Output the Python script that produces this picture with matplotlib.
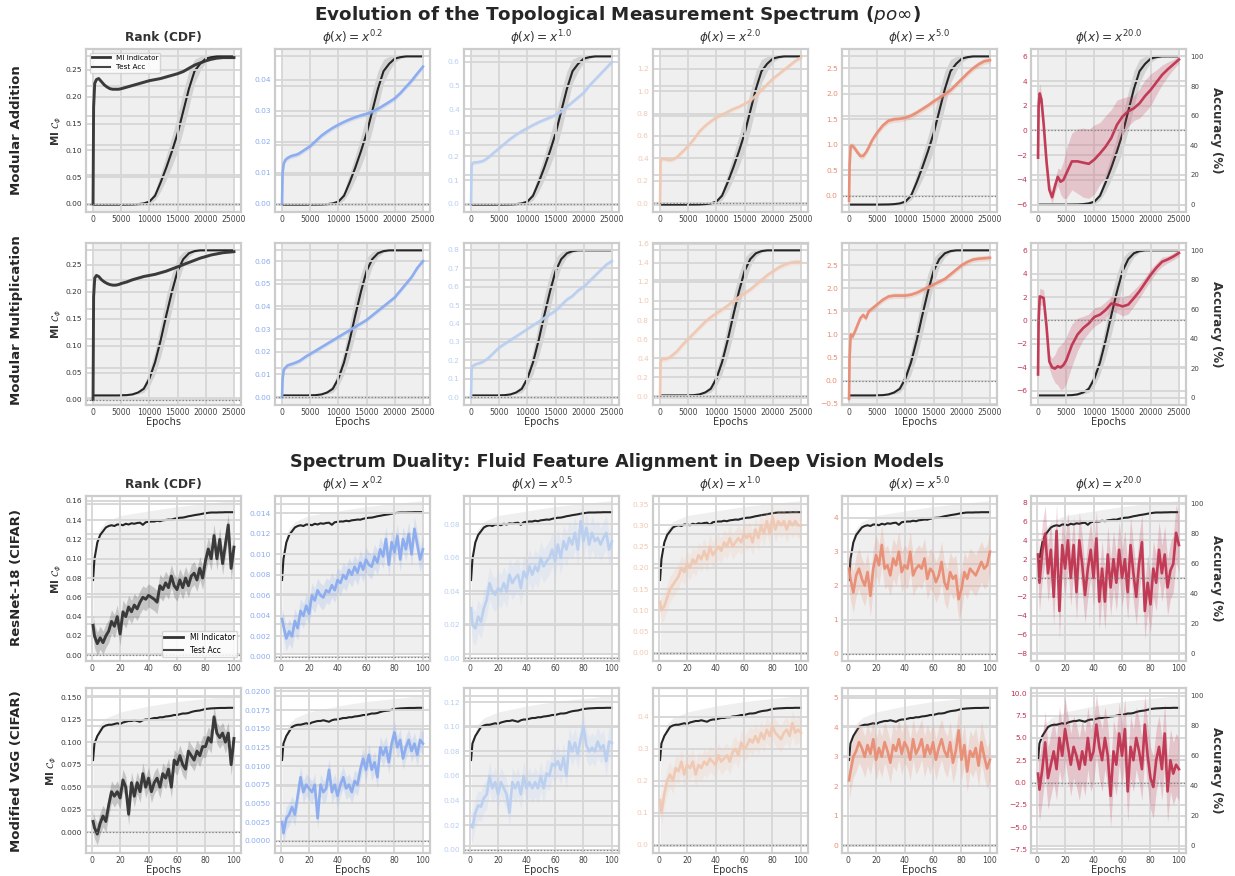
import numpy as np
import matplotlib.pyplot as plt
from matplotlib.lines import Line2D
from matplotlib.ticker import MultipleLocator

W, H = 1235, 876

# ---------------- grokking runs (training steps) ----------------
grok_steps = [0, 100, 300, 600, 1000, 1500, 2000, 2500, 3000, 3500, 4000, 4500, 5000,
              6000, 7000, 8000, 9000, 10000, 11000, 12000, 13000, 14000, 15000, 16000,
              17000, 18000, 19000, 20000, 21000, 22000, 23000, 24000, 25000]

acc_add = [0, 0, 0, 0, 0, 0, 0, 0, 0, 0, 0, 0, 0, 0.05, 0.1, 0.3, 0.8, 2, 6, 15, 25, 36,
           48, 63, 78, 90, 95, 98.5, 99.5, 100, 100, 100, 100]
acc_add_sd = [0, 0, 0, 0, 0, 0, 0, 0, 0, 0, 0, 0, 0, 0.05, 0.1, 0.3, 0.7, 1.5, 3, 6, 8, 10,
              12, 13, 12, 8, 5, 2.5, 1, 0.3, 0, 0, 0]
acc_mul = [1.5, 1.5, 1.5, 1.5, 1.5, 1.5, 1.5, 1.5, 1.5, 1.5, 1.5, 1.5, 1.6, 1.7, 2.2, 3.5,
           6, 13, 24, 39, 56, 72, 86, 94, 98, 99.5, 100, 100, 100, 100, 100, 100, 100]
acc_mul_sd = [0, 0, 0, 0, 0, 0, 0, 0, 0, 0, 0, 0, 0.1, 0.2, 0.5, 1, 2.5, 5, 8, 11, 13, 12,
              9, 5, 2.5, 1, 0.3, 0, 0, 0, 0, 0, 0]

add_rank = [0, 0.18, 0.225, 0.232, 0.234, 0.228, 0.222, 0.218, 0.215, 0.214, 0.214, 0.214,
            0.215, 0.218, 0.221, 0.224, 0.227, 0.23, 0.232, 0.234, 0.237, 0.24, 0.243,
            0.247, 0.253, 0.259, 0.263, 0.267, 0.27, 0.272, 0.273, 0.273, 0.273]
add_p02 = [0, 0.01, 0.013, 0.0142, 0.0148, 0.0153, 0.0156, 0.0158, 0.0162, 0.0168, 0.0174,
           0.018, 0.0186, 0.0203, 0.022, 0.0233, 0.0245, 0.0255, 0.0264, 0.0272, 0.0279,
           0.0285, 0.029, 0.0297, 0.0306, 0.0317, 0.0328, 0.034, 0.0357, 0.0377, 0.0397,
           0.042, 0.0442]
add_p10 = [0, 0.16, 0.172, 0.175, 0.175, 0.177, 0.18, 0.186, 0.195, 0.205, 0.215, 0.225,
           0.235, 0.255, 0.275, 0.292, 0.307, 0.32, 0.333, 0.345, 0.355, 0.365, 0.375,
           0.39, 0.41, 0.43, 0.45, 0.47, 0.5, 0.525, 0.55, 0.575, 0.6]
add_p20 = [0, 0.37, 0.395, 0.395, 0.39, 0.385, 0.385, 0.395, 0.41, 0.435, 0.46, 0.485,
           0.51, 0.57, 0.64, 0.69, 0.73, 0.765, 0.79, 0.815, 0.84, 0.86, 0.885, 0.915,
           0.96, 1.01, 1.06, 1.11, 1.15, 1.19, 1.23, 1.27, 1.3]
add_p50 = [-0.1, 0.6, 0.98, 0.98, 0.93, 0.85, 0.78, 0.78, 0.85, 0.95, 1.07, 1.16, 1.24,
           1.38, 1.47, 1.5, 1.51, 1.53, 1.57, 1.63, 1.7, 1.77, 1.85, 1.92, 1.99, 2.07,
           2.18, 2.29, 2.4, 2.5, 2.58, 2.64, 2.66]
add_p200 = [-2.2, 2.0, 3.0, 2.5, 0.5, -2.5, -4.8, -5.4, -4.5, -3.75, -4.15, -4.0, -3.5,
            -2.5, -2.5, -2.6, -2.7, -2.35, -1.85, -1.3, -0.6, 0.46, 1.14, 1.55, 1.8, 2.2,
            2.8, 3.3, 3.9, 4.5, 4.95, 5.35, 5.75]
add_p200_sd = [0.5, 1.0, 0.8, 0.5, 0.5, 0.5, 0.5, 0.5, 0.5, 0.7, 1.0, 1.5, 2.0, 2.3, 2.6,
               2.8, 2.8, 2.8, 2.5, 2.5, 2.3, 2.0, 1.5, 1.2, 1.0, 1.2, 1.3, 1.3, 1.0, 0.8,
               0.6, 0.4, 0.3]

mul_rank = [0, 0.19, 0.225, 0.23, 0.228, 0.222, 0.218, 0.215, 0.213, 0.212, 0.212, 0.213,
            0.215, 0.218, 0.222, 0.225, 0.228, 0.23, 0.232, 0.235, 0.238, 0.242, 0.246,
            0.25, 0.254, 0.258, 0.262, 0.265, 0.268, 0.27, 0.272, 0.273, 0.274]
mul_p02 = [0, 0.008, 0.012, 0.013, 0.014, 0.0144, 0.0148, 0.0153, 0.0158, 0.0166, 0.0175,
           0.0183, 0.019, 0.0205, 0.022, 0.0235, 0.025, 0.0265, 0.028, 0.0295, 0.031,
           0.0325, 0.034, 0.036, 0.038, 0.04, 0.042, 0.044, 0.047, 0.05, 0.053, 0.057, 0.06]
mul_p10 = [0, 0.15, 0.17, 0.175, 0.18, 0.185, 0.19, 0.2, 0.21, 0.225, 0.24, 0.255, 0.27,
           0.29, 0.31, 0.33, 0.35, 0.37, 0.39, 0.41, 0.43, 0.45, 0.47, 0.5, 0.53, 0.55,
           0.58, 0.6, 0.63, 0.66, 0.69, 0.72, 0.74]
mul_p20 = [0, 0.35, 0.39, 0.39, 0.39, 0.4, 0.42, 0.445, 0.47, 0.505, 0.54, 0.57, 0.6, 0.66,
           0.72, 0.78, 0.83, 0.87, 0.91, 0.95, 1.0, 1.04, 1.08, 1.12, 1.17, 1.22, 1.27,
           1.31, 1.35, 1.38, 1.4, 1.41, 1.41]
mul_p50 = [-0.4, 0.5, 1.0, 0.95, 1.05, 1.2, 1.35, 1.42, 1.35, 1.5, 1.55, 1.6, 1.65, 1.75,
           1.82, 1.84, 1.84, 1.84, 1.86, 1.9, 1.96, 2.02, 2.08, 2.14, 2.2, 2.3, 2.4, 2.5,
           2.57, 2.62, 2.64, 2.65, 2.66]
mul_p200 = [-4.6, 0.0, 2.05, 2.0, 1.9, -0.5, -3.5, -4.0, -4.1, -3.9, -4.0, -3.8, -3.4,
            -2.1, -1.2, -0.65, -0.25, 0.3, 0.5, 0.9, 1.45, 1.35, 1.2, 1.35, 1.9, 2.5, 3.2,
            3.9, 4.5, 5.0, 5.2, 5.45, 5.75]
mul_p200_sd = [0.5, 0.7, 0.7, 0.7, 0.7, 0.6, 0.6, 0.8, 1.2, 1.6, 1.9, 2.0, 2.0, 1.8, 1.4,
               1.0, 0.8, 0.8, 0.7, 0.7, 0.6, 0.7, 0.8, 0.8, 0.7, 0.6, 0.5, 0.5, 0.4, 0.4,
               0.3, 0.3, 0.3]

# ---------------- vision models (epochs) ----------------
epochs = [1, 2, 4, 6, 8, 10, 12, 14, 16, 18, 20, 22, 24, 26, 28, 30, 32, 34, 36, 38,
          40, 42, 44, 46, 48, 50, 52, 54, 56, 58, 60, 62, 64, 66, 68, 70, 72, 74, 76, 78,
          80, 82, 84, 86, 88, 90, 92, 94, 96, 98, 100]
env_epochs = [1, 5, 10, 20, 40, 60, 80, 100]

resnet_acc = [49, 63, 74, 79, 81.5, 84, 85, 85.5, 85, 86,
              86, 85.5, 86.5, 86, 86.8, 86.5, 87, 87.2, 85.8, 87.5,
              87.8, 88, 88, 88.5, 88.2, 88.8, 89, 89.3, 89.2, 89.8,
              90.2, 90.5, 90.6, 91, 91.5, 91.8, 92.2, 92.5, 92.8, 93.2,
              93.5, 93.8, 94, 94, 94, 94.1, 94.1, 94.2, 94.2, 94.2, 94.2]
resnet_env = [55, 82, 88, 92, 95, 98, 100, 102]
vgg_acc = [57, 68, 73, 76, 79, 80, 80.5, 80.5, 81, 81.5,
           81, 82, 82.5, 83, 83, 83.5, 83, 82.5, 83.5, 84,
           84, 84.5, 85, 85, 85.5, 85.5, 86, 86.2, 86.5, 87,
           87, 87.5, 88, 88, 88.3, 89, 89.5, 89.8, 90, 90.5,
           91, 91.2, 91.4, 91.5, 91.6, 91.7, 91.7, 91.7, 91.8, 91.8, 91.8]
vgg_env = [60, 80, 85, 89, 93, 96, 98, 100]

res_rank = [0.031, 0.02, 0.012, 0.018, 0.013, 0.02, 0.025, 0.035, 0.03, 0.04,
            0.022, 0.045, 0.04, 0.05, 0.045, 0.052, 0.048, 0.055, 0.06, 0.058,
            0.062, 0.06, 0.058, 0.055, 0.072, 0.068, 0.075, 0.07, 0.082, 0.072,
            0.068, 0.078, 0.07, 0.08, 0.072, 0.082, 0.085, 0.078, 0.09, 0.08,
            0.098, 0.11, 0.1, 0.124, 0.1, 0.12, 0.095, 0.115, 0.135, 0.09, 0.112]
res_p02 = [0.0037, 0.003, 0.0018, 0.0025, 0.002, 0.0035, 0.0028, 0.0045, 0.004, 0.005,
           0.0042, 0.006, 0.0055, 0.0065, 0.006, 0.0058, 0.0065, 0.0063, 0.007, 0.0065,
           0.0075, 0.0072, 0.008, 0.0076, 0.0085, 0.008, 0.0088, 0.0082, 0.0092, 0.0085,
           0.0095, 0.009, 0.0088, 0.0098, 0.0092, 0.0105, 0.0098, 0.0115, 0.009, 0.0112,
           0.0102, 0.0118, 0.0095, 0.0115, 0.0105, 0.012, 0.01, 0.0125, 0.011, 0.0095, 0.0105]
res_p05 = [0.03, 0.02, 0.018, 0.025, 0.022, 0.03, 0.035, 0.045, 0.04, 0.038,
           0.042, 0.04, 0.045, 0.04, 0.05, 0.045, 0.048, 0.05, 0.042, 0.052,
           0.048, 0.055, 0.05, 0.055, 0.052, 0.06, 0.055, 0.058, 0.06, 0.065,
           0.058, 0.068, 0.06, 0.07, 0.065, 0.072, 0.068, 0.075, 0.065, 0.082,
           0.07, 0.078, 0.068, 0.075, 0.07, 0.072, 0.068, 0.072, 0.075, 0.065, 0.07]
res_p10 = [0.12, 0.1, 0.11, 0.13, 0.15, 0.16, 0.17, 0.18, 0.2, 0.19,
           0.21, 0.2, 0.22, 0.21, 0.23, 0.22, 0.24, 0.22, 0.25, 0.23,
           0.24, 0.25, 0.24, 0.26, 0.25, 0.27, 0.25, 0.26, 0.27, 0.26,
           0.28, 0.27, 0.28, 0.26, 0.29, 0.27, 0.3, 0.28, 0.31, 0.28,
           0.32, 0.29, 0.31, 0.3, 0.31, 0.29, 0.31, 0.3, 0.31, 0.3, 0.3]
res_p50 = [2.5, 2.2, 1.8, 2.3, 2.5, 2.2, 2.0, 2.4, 1.7, 2.5,
           2.9, 2.6, 3.2, 2.5, 2.6, 2.3, 2.8, 2.6, 3.0, 2.4,
           2.6, 2.5, 3.0, 2.3, 2.5, 2.6, 2.5, 2.8, 2.2, 2.5,
           2.4, 2.1, 2.3, 2.7, 2.1, 1.9, 2.4, 2.2, 2.3, 1.6,
           1.9, 2.4, 2.2, 2.5, 2.4, 2.3, 2.5, 2.7, 2.5, 2.6, 3.0]
res_p200 = [2.5, -0.5, 2.8, 4.7, 0.5, 3.0, -2.0, 5.0, -3.5, 3.5,
            1.0, 4.0, 0.0, 3.5, -1.5, 4.0, 1.5, -1.8, 1.0, 3.0,
            0.0, 4.2, -2.5, 1.0, -2.5, 2.5, -1.0, 2.0, -0.5, 3.0,
            0.0, 2.0, -1.5, 3.5, 0.5, -2.0, 1.5, 3.8, -3.5, -0.5,
            -2.8, 1.0, -0.5, 3.0, 0.5, 2.5, -1.0, 0.8, 1.5, 4.8, 3.5]

vgg_rank = [0.012, 0.005, -0.002, 0.01, 0.018, 0.012, 0.03, 0.045, 0.04, 0.045,
            0.038, 0.058, 0.05, 0.02, 0.055, 0.04, 0.055, 0.045, 0.065, 0.05,
            0.06, 0.045, 0.055, 0.06, 0.05, 0.065, 0.06, 0.07, 0.05, 0.08,
            0.075, 0.085, 0.075, 0.07, 0.09, 0.085, 0.08, 0.09, 0.085, 0.095,
            0.095, 0.105, 0.1, 0.128, 0.11, 0.105, 0.11, 0.1, 0.11, 0.075, 0.104]
vgg_p02 = [0.0025, 0.001, 0.003, 0.0035, 0.0045, 0.0035, 0.006, 0.0085, 0.0065, 0.0075,
           0.007, 0.0065, 0.0075, 0.003, 0.0075, 0.0065, 0.007, 0.0095, 0.0065, 0.0075,
           0.006, 0.0075, 0.0085, 0.007, 0.0075, 0.0065, 0.008, 0.0075, 0.0095, 0.011,
           0.0095, 0.0115, 0.0095, 0.0105, 0.0085, 0.0125, 0.0115, 0.0125, 0.0105, 0.013,
           0.0145, 0.0125, 0.0135, 0.011, 0.0125, 0.0135, 0.012, 0.013, 0.0115, 0.0135, 0.013]
vgg_p05 = [0.02, 0.018, 0.03, 0.036, 0.035, 0.042, 0.045, 0.06, 0.05, 0.055,
           0.045, 0.055, 0.05, 0.045, 0.03, 0.055, 0.05, 0.055, 0.045, 0.06,
           0.05, 0.055, 0.05, 0.055, 0.05, 0.06, 0.05, 0.062, 0.06, 0.07,
           0.068, 0.072, 0.065, 0.075, 0.06, 0.088, 0.08, 0.087, 0.078, 0.09,
           0.1, 0.085, 0.08, 0.083, 0.08, 0.088, 0.082, 0.085, 0.072, 0.088, 0.087]
vgg_p10 = [0.14, 0.1, 0.16, 0.2, 0.22, 0.2, 0.24, 0.23, 0.26, 0.22,
           0.25, 0.24, 0.26, 0.22, 0.25, 0.24, 0.26, 0.25, 0.27, 0.26,
           0.25, 0.28, 0.26, 0.27, 0.28, 0.26, 0.29, 0.3, 0.28, 0.32,
           0.3, 0.31, 0.33, 0.32, 0.34, 0.32, 0.35, 0.33, 0.36, 0.34,
           0.37, 0.35, 0.34, 0.33, 0.35, 0.36, 0.34, 0.38, 0.35, 0.36, 0.35]
vgg_p50 = [2.2, 2.5, 3.0, 3.2, 3.5, 3.3, 3.0, 3.4, 3.1, 3.6,
           2.9, 3.3, 3.0, 3.5, 3.2, 2.8, 3.4, 3.2, 3.6, 3.1,
           3.5, 3.3, 2.9, 3.6, 3.1, 3.3, 3.6, 3.0, 3.4, 3.1,
           3.5, 2.9, 3.3, 3.6, 3.2, 3.0, 3.5, 2.8, 3.2, 3.9,
           2.9, 3.4, 2.5, 3.2, 3.0, 3.3, 2.7, 3.5, 3.0, 2.6, 2.9]
vgg_p200 = [1.0, -0.8, 1.5, 4.5, 0.5, 2.0, 3.5, 1.5, 5.0, 3.0,
            6.0, 4.0, 2.0, 4.0, 3.0, 1.5, 3.5, 2.0, 5.0, 2.5,
            3.5, 6.5, 4.0, 2.5, 5.0, 3.0, -1.5, 3.5, 2.0, 5.5,
            3.0, 6.0, -1.0, 4.0, 2.5, 5.0, 3.5, 1.5, 6.5, 3.0,
            0.5, -0.5, 2.5, 4.0, 1.5, 5.5, -1.0, 2.5, 1.0, 2.0, 1.5]

# band half-widths (scalar unless a list was read)
sd_rows = [
    [0.002, 0.0008, 0.008, 0.02, 0.06, add_p200_sd],
    [0.002, 0.001, 0.01, 0.03, 0.06, mul_p200_sd],
    [0.012, 0.0012, 0.01, 0.03, 0.6, 3.0],
    [0.012, 0.0015, 0.012, 0.04, 0.7, 3.5],
]
mi_rows = [
    [add_rank, add_p02, add_p10, add_p20, add_p50, add_p200],
    [mul_rank, mul_p02, mul_p10, mul_p20, mul_p50, mul_p200],
    [res_rank, res_p02, res_p05, res_p10, res_p50, res_p200],
    [vgg_rank, vgg_p02, vgg_p05, vgg_p10, vgg_p50, vgg_p200],
]
ylims = [
    [(-0.015, 0.289), (-0.0026, 0.0499), (-0.035, 0.655), (-0.08, 1.377), (-0.32, 2.88), (-6.6, 6.6)],
    [(-0.01, 0.29), (-0.0035, 0.068), (-0.043, 0.838), (-0.094, 1.61), (-0.53, 2.98), (-7.2, 6.6)],
    [(-0.006, 0.165), (-0.0004, 0.0157), (-0.0015, 0.097), (-0.019, 0.369), (-0.22, 4.64), (-8.8, 8.7)],
    [(-0.023, 0.160), (-0.00165, 0.02045), (-0.0027, 0.1316), (-0.025, 0.49), (-0.27, 5.34), (-7.9, 10.6)],
]
ytick_steps = [
    [0.05, 0.01, 0.1, 0.2, 0.5, 2],
    [0.05, 0.01, 0.1, 0.2, 0.5, 2],
    [0.02, 0.002, 0.02, 0.05, 1, 2],
    [0.025, 0.0025, 0.02, 0.1, 1, 2.5],
]

row_names = ['Modular Addition', 'Modular Multiplication', 'ResNet-18 (CIFAR)', 'Modified VGG (CIFAR)']
top_titles = ['Rank (CDF)', r'$\phi(x) = x^{0.2}$', r'$\phi(x) = x^{1.0}$',
              r'$\phi(x) = x^{2.0}$', r'$\phi(x) = x^{5.0}$', r'$\phi(x) = x^{20.0}$']
bot_titles = ['Rank (CDF)', r'$\phi(x) = x^{0.2}$', r'$\phi(x) = x^{0.5}$',
              r'$\phi(x) = x^{1.0}$', r'$\phi(x) = x^{5.0}$', r'$\phi(x) = x^{20.0}$']
colors = ['#333333', '#8aabee', '#b9cef0', '#f0c8b2', '#e88c73', '#c03450']

plt.rcParams['font.family'] = 'DejaVu Sans'
fig = plt.figure(figsize=(W / 100, H / 100), dpi=100)

lefts = [86, 275, 464, 653, 842, 1031]
rows_px = [(49, 212), (243, 405), (496, 661), (688, 853)]
ax_w = 155
grid_c = '#d6d6d6'


def add_ax(r, c):
    top, bot = rows_px[r]
    return fig.add_axes([lefts[c] / W, 1 - bot / H, ax_w / W, (bot - top) / H])


for r in range(4):
    grok = r < 2
    x = np.array(grok_steps if grok else epochs, dtype=float)
    for c in range(6):
        ax = add_ax(r, c)
        ax2 = ax.twinx()
        ax.set_zorder(ax2.get_zorder() + 1)
        ax.patch.set_visible(False)

        # accuracy on the twin axis
        if grok:
            acc = np.array(acc_add if r == 0 else acc_mul)
            acc_sd = np.array(acc_add_sd if r == 0 else acc_mul_sd)
            ax2.fill_between(x, -5, 105, color='gray', alpha=0.12, lw=0)
            ax2.fill_between(x, acc - acc_sd, acc + acc_sd, color='gray', alpha=0.25, lw=0)
        else:
            acc = np.array(resnet_acc if r == 2 else vgg_acc)
            env = resnet_env if r == 2 else vgg_env
            ax2.fill_between(env_epochs, 0, env, color='gray', alpha=0.12, lw=0)
        ax2.plot(x, acc, color='#262626', lw=1.5)
        ax2.set_ylim(-5, 105)
        ax2.set_yticks([0, 20, 40, 60, 80, 100])
        ax2.grid(axis='y', color=grid_c, lw=1.3)
        ax2.grid(axis='x', visible=False)
        if c == 5:
            ax2.tick_params(axis='y', labelsize=5, colors='#444444', length=0, pad=3)
            ax2.set_ylabel('Accuracy (%)', rotation=270, fontsize=8.5, weight='bold',
                           color='#333333', labelpad=14)
        else:
            ax2.tick_params(axis='y', labelright=False, length=0)

        # MI indicator
        mi = np.array(mi_rows[r][c])
        sd = np.array(sd_rows[r][c])
        col = colors[c]
        ax.fill_between(x, mi - sd, mi + sd, color=col, alpha=0.22, lw=0)
        ax.plot(x, mi, color=col, lw=1.9 if c else 2.1, alpha=0.95)
        ax.axhline(0, color='gray', ls=':', lw=0.9)
        ax.set_ylim(*ylims[r][c])
        ax.yaxis.set_major_locator(MultipleLocator(ytick_steps[r][c]))
        ax.grid(True, color=grid_c, lw=1.3)
        ax.set_axisbelow(True)
        ax.tick_params(axis='y', labelsize=5.4, colors=col if c else '#333333', length=0, pad=3)
        ax.tick_params(axis='x', labelsize=5.6, colors='#444444', length=0, pad=2)
        if grok:
            ax.set_xticks([0, 5000, 10000, 15000, 20000, 25000])
        else:
            ax.set_xticks([0, 20, 40, 60, 80, 100])

        for a in (ax, ax2):
            for s in a.spines.values():
                s.set_color('#cccccc')
                s.set_linewidth(1.5)

        titles = top_titles if grok else bot_titles
        if r in (0, 2):
            if c == 0:
                ax.set_title(titles[c], fontsize=8.7, weight='bold', color='#333333', pad=6)
            else:
                ax.set_title(titles[c], fontsize=8.7, color='#333333', pad=5)
        if r in (1, 3):
            ax.set_xlabel('Epochs', fontsize=7, color='#333333', labelpad=0)
        if c == 0:
            ax.set_ylabel(r'MI $\mathcal{C}_\phi$', fontsize=7.5, weight='bold',
                          color='#333333', labelpad=1)
            handles = [Line2D([], [], color='#333333', lw=2, label='MI Indicator'),
                       Line2D([], [], color='#444444', lw=1.5, label='Test Acc')]
            if r == 0:
                ax.legend(handles=handles, loc='upper left', fontsize=5.2, frameon=True,
                          framealpha=0.8, borderpad=0.3, handlelength=2.5)
            elif r == 2:
                ax.legend(handles=handles, loc='lower right', fontsize=5.5, frameon=True,
                          framealpha=0.8, borderpad=0.3, handlelength=2.5)

# super titles and row labels
fig.text(0.5, 1 - 15 / H, r'Evolution of the Topological Measurement Spectrum ($po\infty$)',
         ha='center', va='center', fontsize=13.2, weight='bold', color='#262626')
fig.text(0.5, 1 - 462 / H, 'Spectrum Duality: Fluid Feature Alignment in Deep Vision Models',
         ha='center', va='center', fontsize=12.7, weight='bold', color='#262626')
for name, yc in zip(row_names, [130, 320, 577, 771]):
    fig.text(17 / W, 1 - yc / H, name, rotation=90, ha='center', va='center',
             fontsize=9.5, weight='bold', color='#262626')

fig.savefig('out.png', dpi=100)
